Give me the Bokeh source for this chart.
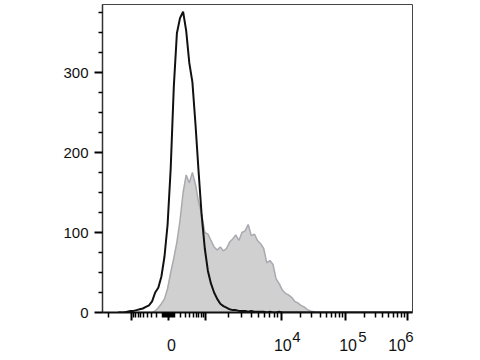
import numpy as np
from bokeh.plotting import figure
from bokeh.models import FixedTicker, LinearAxis, Range1d
from bokeh.embed import file_html
from bokeh.resources import INLINE

# ---- data (histogram bin centres in display-channel units 0..1000) ----
bins = [50, 60, 70, 80, 90, 100, 110, 120, 130, 140, 150, 160, 170, 180, 190,
        200, 210, 220, 230, 240, 250, 260, 270, 280, 290, 300, 310, 320, 330,
        340, 350, 360, 370, 380, 390, 400, 410, 420, 430, 440, 450, 460, 470,
        480, 490, 500, 510, 520, 530, 540, 550, 560, 570, 580, 590, 600, 610,
        620, 630, 640, 650, 660, 670, 680, 690, 700, 720, 800, 900, 1000]

black_counts = [0, 0, 0, 1, 2, 2, 3, 4, 5, 7, 9, 14, 25, 31, 45,
                70, 110, 180, 282, 349, 368, 376, 352, 312, 288, 235, 176, 121, 80,
                52, 36, 25, 17, 11, 8, 6, 4, 3, 3, 2, 2, 2, 1,
                2, 1, 1, 1, 1, 0, 1, 0, 0, 1, 0, 0, 0, 0,
                0, 0, 0, 0, 0, 0, 0, 0, 0, 0, 0, 0, 0]

gray_counts = [0, 0, 0, 0, 0, 0, 0, 0, 0, 0, 0, 0, 2, 6, 11,
               17, 30, 50, 68, 88, 115, 150, 172, 162, 175, 160, 138, 122, 100,
               98, 90, 82, 78, 82, 77, 80, 88, 92, 97, 90, 100, 102, 110,
               96, 98, 90, 86, 80, 62, 65, 60, 42, 36, 28, 24, 22, 19,
               14, 12, 9, 7, 4, 2, 1, 0, 0, 0, 0, 0, 0]

# ---- axis definitions ----
y_ticks = [0, 100, 200, 300]
y_minor = [25, 50, 75, 125, 150, 175, 225, 250, 275, 325, 350, 375]

x_major_values = [-1000, 0, 1000, 1e4, 1e5, 1e6]
x_label_values = [0, 1e4, 1e5, 1e6]
x_label_base = ["0", "10", "10", "10"]
x_label_exp = ["4", "5", "6"]

# logicle-like display scale anchors (value -> display channel)
decade_values = [0, 1e3, 1e4, 1e5, 1e6]
decade_channels = [213, 332, 577, 784, 984]

# label placement relative to the tick (pixels)
base_dx = [3, 1.5, 2.5, -10.5]
exp_dx = [15, 17, 2]

FRAME_W = 310
PX = 1000 / FRAME_W  # display units per pixel


def to_disp(v):
    s = np.sign(v)
    a = abs(v)
    if a <= 1000:
        d = (decade_channels[1] - decade_channels[0]) * np.arcsinh(a / 300) / np.arcsinh(1000 / 300)
    else:
        d = np.interp(np.log10(a), [3, 4, 5, 6], decade_channels[1:]) - decade_channels[0]
    return round(float(decade_channels[0] + s * d), 2)


minor_values = [-2000]
minor_values += [-m * 100 for m in range(9, 0, -1)]
minor_values += [-m * 10 for m in range(9, 0, -1)]
minor_values += [m * 10 for m in range(1, 10)]
minor_values += [m * 100 for m in range(1, 10)]
for dec in (1e3, 1e4, 1e5):
    minor_values += [m * dec for m in range(2, 10)]

x_major_pos = [to_disp(v) for v in x_major_values]
x_minor_pos = [to_disp(v) for v in minor_values]
base_pos = [round(to_disp(v) + dx * PX, 2) for v, dx in zip(x_label_values, base_dx)]
exp_pos = [round(to_disp(v) + dx * PX, 2) for v, dx in zip(x_label_values[1:], exp_dx)]

FONT = "Liberation Sans"

p = figure(width=480, height=360, output_backend="svg", toolbar_location=None,
           x_range=Range1d(0, 1000), y_range=Range1d(0, 385),
           min_border_left=102, min_border_right=68, min_border_top=4,
           min_border_bottom=48)
p.xgrid.visible = False
p.ygrid.visible = False
p.outline_line_color = "#444444"
p.outline_line_width = 1
p.background_fill_color = "white"
p.border_fill_color = "white"

# gray filled histogram
p.varea(x=bins, y1=[0] * len(bins), y2=gray_counts, fill_color="#d0d0d0", fill_alpha=1.0)
p.line(x=bins, y=gray_counts, line_color="#a9a9b0", line_width=1.5)
# black open histogram
p.line(x=bins, y=black_counts, line_color="#111111", line_width=2)

# y axis
ya = p.yaxis[0]
ya.ticker = FixedTicker(ticks=y_ticks, minor_ticks=y_minor)
ya.major_label_text_font = FONT
ya.major_label_text_font_size = "15px"
ya.major_label_text_color = "#111111"
ya.major_tick_in = 0
ya.major_tick_out = 8
ya.major_tick_line_width = 2
ya.minor_tick_in = 0
ya.minor_tick_out = 4
ya.minor_tick_line_width = 1.5
ya.axis_line_width = 1.5
ya.axis_line_color = "#333333"
ya.major_label_standoff = 6

# x axis: line and ticks only
xa = p.xaxis[0]
xa.ticker = FixedTicker(ticks=x_major_pos, minor_ticks=x_minor_pos)
xa.major_label_overrides = {pos: "" for pos in x_major_pos}
xa.major_label_text_font_size = "0px"
xa.major_label_standoff = 0
xa.major_tick_in = 0
xa.major_tick_out = 8
xa.major_tick_line_width = 2
xa.minor_tick_in = 0
xa.minor_tick_out = 5
xa.minor_tick_line_width = 1.5
xa.axis_line_width = 2
xa.axis_line_color = "#111111"


def label_axis(positions, labels, standoff, size):
    ax = LinearAxis(ticker=FixedTicker(ticks=positions, minor_ticks=[]),
                    major_label_overrides={pos: lab for pos, lab in zip(positions, labels)},
                    axis_line_color=None, major_tick_line_color=None,
                    minor_tick_line_color=None, major_tick_out=0, major_tick_in=0,
                    minor_tick_out=0, minor_tick_in=0,
                    major_label_standoff=standoff,
                    major_label_text_font=FONT,
                    major_label_text_font_size=size,
                    major_label_text_color="#111111")
    p.add_layout(ax, "below")
    return ax


# exponents sit just under the tick axis, decade bases below them
label_axis(exp_pos, x_label_exp, 11, "15px")
label_axis(base_pos, x_label_base, -6, "16px")

open("out.html", "w").write(file_html(p, INLINE))
